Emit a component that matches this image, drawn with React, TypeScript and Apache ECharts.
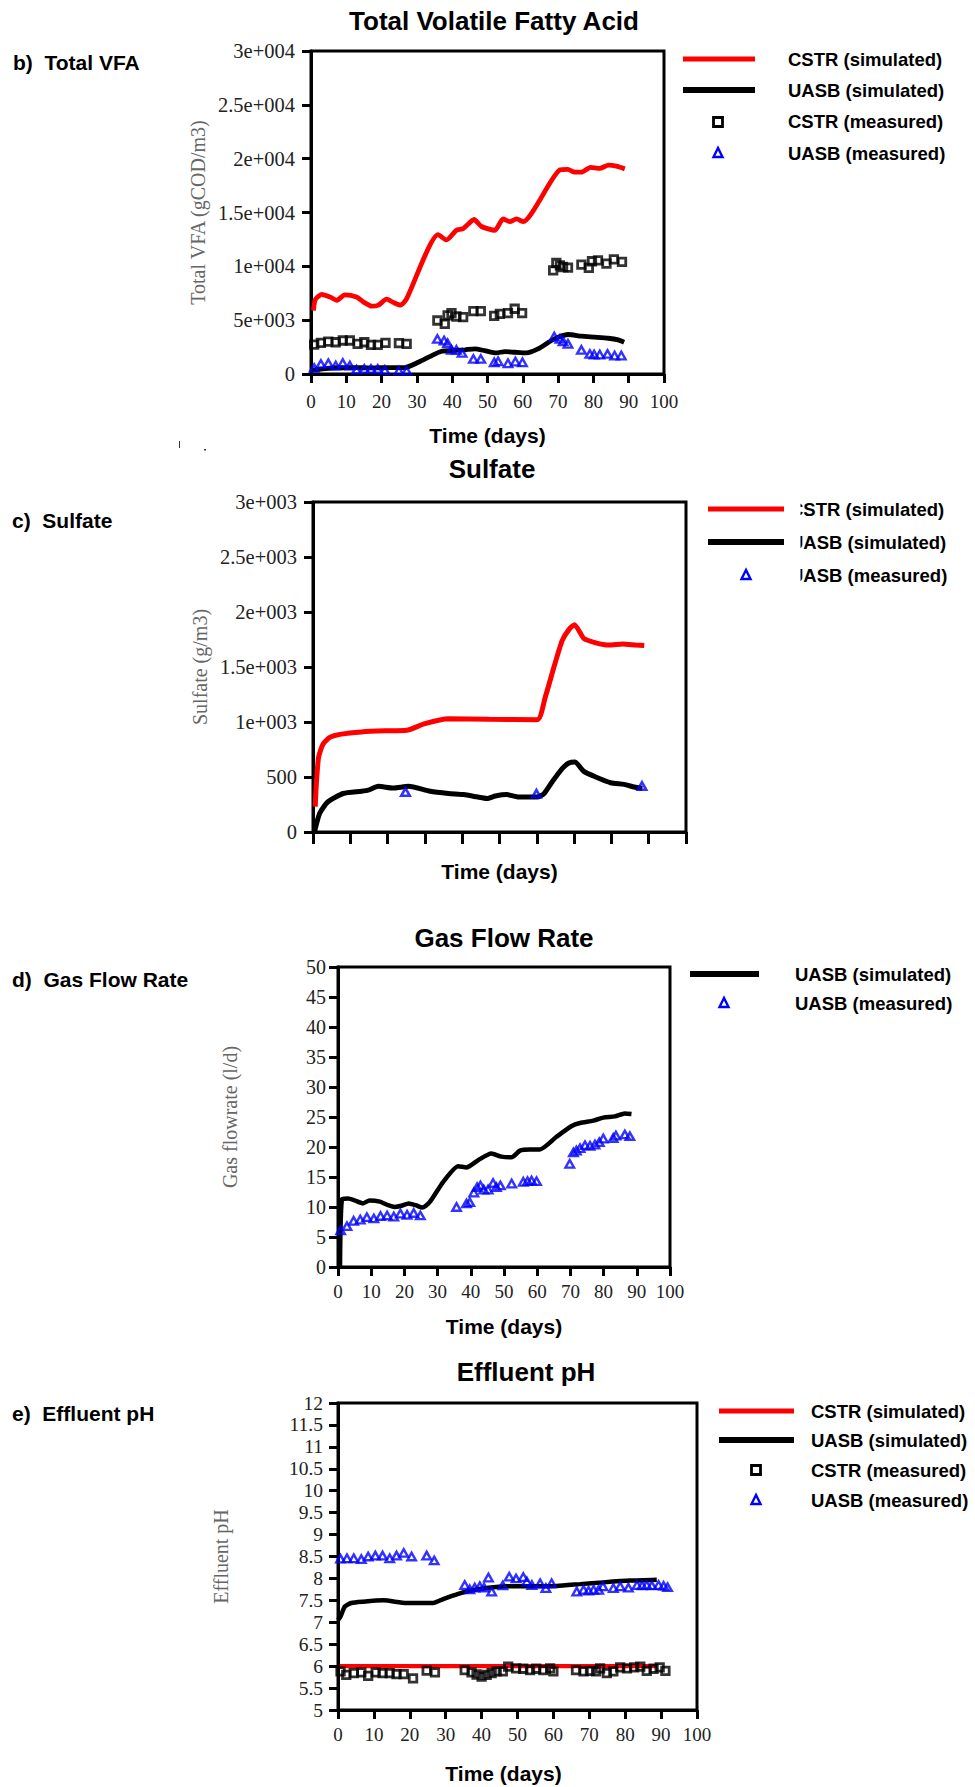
import React, { useEffect, useRef } from 'react';
import * as echarts from 'echarts';

// ---------- tick labels ----------
const timeTicks = ['0', '10', '20', '30', '40', '50', '60', '70', '80', '90', '100'];
const vfaYTicks = ['0', '5e+003', '1e+004', '1.5e+004', '2e+004', '2.5e+004', '3e+004'];
const sulfYTicks = ['0', '500', '1e+003', '1.5e+003', '2e+003', '2.5e+003', '3e+003'];
const gasYTicks = ['0', '5', '10', '15', '20', '25', '30', '35', '40', '45', '50'];
const phYTicks = ['5', '5.5', '6', '6.5', '7', '7.5', '8', '8.5', '9', '9.5', '10', '10.5', '11', '11.5', '12'];

// ---------- b) Total VFA ----------
const cstrVfaSim = [[0.7, 5900], [1.2, 6900], [3, 7400], [5.4, 7150], [7.3, 6850], [9.6, 7350], [12.9, 7150], [14.8, 6700], [17.2, 6300], [19.1, 6400], [21.4, 6950], [23.3, 6650], [25.4, 6400], [27.1, 7000], [36, 12950], [38.4, 12450], [41.2, 13350], [43.1, 13500], [46.2, 14350], [48.3, 13700], [52.1, 13350], [54.4, 14400], [56.3, 14150], [58.2, 14400], [60.1, 14150], [70.5, 18950], [72.8, 19000], [74.7, 18750], [76.6, 18750], [79.2, 19200], [81.8, 19100], [84.3, 19400], [86.5, 19300], [88.9, 19050]];
const uasbVfaSim = [[0.3, 350], [4, 500], [7.7, 580], [12.5, 600], [17, 560], [22, 600], [26.6, 600], [30.4, 1090], [34.2, 1710], [37, 2110], [39.8, 2170], [43.6, 2250], [46.4, 2330], [49.2, 2170], [52.5, 1960], [54.9, 2080], [57.7, 2020], [61, 1960], [64.3, 2330], [68.1, 3110], [70, 3420], [72.8, 3670], [76.6, 3510], [80.4, 3420], [84.2, 3320], [87, 3170], [88.7, 2950]];
const cstrVfaMeas = [[0.9, 2730], [2.8, 2890], [4.9, 3010], [7, 2950], [9, 3110], [11, 3110], [13.2, 2800], [15.1, 2950], [17, 2700], [18.9, 2700], [21.1, 2890], [24.9, 2860], [27.1, 2800], [35.8, 4970], [37.9, 4660], [38.7, 5440], [39.8, 5650], [41.2, 5340], [43.1, 5280], [46, 5840], [48.1, 5840], [51.9, 5400], [53.5, 5590], [55.8, 5650], [57.7, 6060], [59.8, 5650], [68.6, 9630], [69.5, 10310], [70.5, 10090], [71.4, 9940], [72.8, 9880], [76.6, 10160], [78.7, 9850], [79.6, 10470], [81.3, 10560], [83.7, 10250], [85.8, 10650], [88.1, 10410]];
const uasbVfaMeas = [[0.9, 560], [2.8, 930], [4.9, 990], [7, 780], [9, 1020], [11, 780], [12.9, 400], [15.1, 470], [17, 470], [18.9, 470], [20.9, 370], [24.9, 310], [27.1, 310], [35.8, 3260], [37.7, 3110], [38.7, 2860], [39.8, 2240], [41.2, 2240], [42.8, 1960], [46, 1400], [48.1, 1400], [51.9, 1090], [53, 1180], [55.8, 990], [57.9, 1150], [59.9, 1090], [68.9, 3480], [70.5, 3260], [71.4, 3040], [72.8, 2800], [76.6, 2240], [79, 1860], [80.2, 1800], [81.8, 1800], [84, 1860], [86, 1710], [87.9, 1710]];

// ---------- c) Sulfate ----------
const cstrSulfSim = [[0.6, 230], [0.9, 440], [1.5, 680], [2.7, 800], [4.5, 860], [7.6, 890], [13, 910], [19.3, 920], [25.1, 925], [30, 985], [36.3, 1030], [47.1, 1025], [60.1, 1020], [62.3, 1230], [64.6, 1500], [66.8, 1740], [68.6, 1840], [70.1, 1885], [72.6, 1760], [75.8, 1720], [79.4, 1700], [83, 1710], [86.5, 1700], [88.8, 1695]];
const uasbSulfSim = [[0.4, 0], [1.8, 170], [4, 275], [8.1, 350], [13, 370], [14.8, 380], [17.5, 415], [21.5, 400], [25.6, 415], [31.4, 370], [36.3, 350], [40.4, 340], [43.9, 320], [46.6, 305], [48.9, 327], [52, 340], [55.2, 318], [60.1, 318], [61.9, 348], [64.1, 455], [66.8, 576], [68.6, 627], [70.2, 636], [72.6, 551], [75.8, 500], [79.8, 448], [83.4, 433], [86.1, 409], [88.3, 394]];
const uasbSulfMeas = [[24.8, 364], [59.9, 348], [88.2, 418]];

// ---------- d) Gas Flow Rate ----------
const uasbGasSim = [[0.6, 0], [1.2, 11.3], [3, 11.4], [5, 11.1], [7.5, 10.6], [9.5, 11.1], [12.6, 10.9], [15.1, 10.3], [17.1, 10], [19.1, 10.2], [21.3, 10.6], [23.4, 10.3], [25.4, 9.9], [27.6, 10.8], [31.7, 14.2], [36.2, 16.8], [38.7, 16.6], [42.2, 17.8], [46.2, 18.9], [49.2, 18.4], [52.3, 18.3], [54.8, 19.4], [57.8, 19.6], [60.8, 19.6], [65.8, 21.7], [70.4, 23.5], [72.9, 24], [76.9, 24.4], [79.9, 24.9], [83.4, 25.1], [86.4, 25.6], [88.4, 25.5]];
const uasbGasMeas = [[0.8, 6.1], [2.7, 6.8], [4.7, 7.7], [6.7, 7.9], [8.7, 8.3], [10.8, 8.1], [12.8, 8.5], [14.8, 8.6], [16.8, 8.4], [18.8, 8.9], [20.8, 8.7], [22.8, 9.0], [24.8, 8.6], [35.7, 10], [38.7, 10.6], [39.7, 10.8], [40.9, 12.4], [41.9, 13.3], [42.9, 13.6], [43.9, 12.9], [45.2, 12.9], [46.7, 14], [47.7, 13.3], [48.9, 13.6], [52.3, 13.9], [55.8, 14.2], [57.1, 14.3], [58.3, 14.4], [59.8, 14.3], [69.8, 17.2], [70.9, 19.1], [71.8, 19.4], [72.9, 19.8], [74.4, 20.3], [75.9, 20.2], [77.4, 20.4], [78.7, 20.8], [79.9, 21.4], [82.9, 21.5], [83.7, 21.9], [86.4, 22.1], [87.9, 21.8]];

// ---------- e) Effluent pH ----------
const cstrPhSim = [[0.5, 6.0], [30, 6.0], [60, 6.0], [89, 6.0]];
const uasbPhSim = [[0, 7.05], [0.7, 7.13], [1.9, 7.36], [3.7, 7.44], [7, 7.47], [12.6, 7.5], [19.1, 7.44], [26.5, 7.44], [29.3, 7.53], [33.5, 7.65], [36.7, 7.72], [41.4, 7.78], [46.9, 7.82], [53.5, 7.82], [60.9, 7.83], [67.4, 7.87], [73.9, 7.91], [81.4, 7.95], [88.8, 7.97]];
const cstrPhMeas = [[0.7, 5.88], [2.3, 5.8], [4.4, 5.84], [6.5, 5.86], [8.4, 5.78], [10.5, 5.86], [12.4, 5.84], [14.4, 5.84], [16.3, 5.82], [18.3, 5.82], [20.9, 5.72], [24.7, 5.9], [27, 5.86], [35.3, 5.91], [37.2, 5.86], [38.6, 5.81], [40, 5.76], [41.4, 5.8], [42.8, 5.84], [44.2, 5.88], [45.9, 5.88], [47.4, 5.99], [49.6, 5.95], [51.6, 5.94], [53.5, 5.91], [55.2, 5.94], [57.2, 5.91], [59.1, 5.95], [60, 5.88], [66.3, 5.91], [68.4, 5.88], [70.2, 5.89], [71.9, 5.88], [73, 5.95], [74.9, 5.84], [76.7, 5.88], [78.6, 5.97], [80.5, 5.95], [82.5, 5.97], [84.2, 5.99], [86, 5.89], [87.9, 5.94], [89.6, 5.97], [91.2, 5.89]];
const uasbPhMeas = [[0.7, 8.45], [2.5, 8.46], [4.4, 8.46], [6.5, 8.44], [8.4, 8.5], [10.4, 8.52], [12.4, 8.52], [14.4, 8.46], [16.3, 8.52], [18.3, 8.58], [20.5, 8.5], [24.7, 8.52], [26.8, 8.41], [35.3, 7.85], [36.7, 7.75], [38.1, 7.79], [39.5, 7.82], [40.7, 7.79], [41.9, 8.02], [42.8, 7.7], [45.9, 7.84], [47.7, 8.04], [49.6, 8.0], [51.6, 8.03], [52.6, 7.93], [54, 7.85], [56.3, 7.89], [57.9, 7.78], [59.5, 7.89], [66.5, 7.7], [68.4, 7.74], [69.8, 7.72], [71.2, 7.74], [72.6, 7.74], [73.8, 7.82], [76.7, 7.78], [78.6, 7.82], [80.9, 7.79], [83.3, 7.85], [84.7, 7.84], [86, 7.85], [87.4, 7.84], [89.3, 7.85], [90.7, 7.83], [91.8, 7.8]];

const serif = '"Liberation Serif", "Times New Roman", serif';
const sans = '"Liberation Sans", Arial, sans-serif';
const RED = '#ff0000';
const BLUE = '#0000ff';
const BLACK = '#000000';

function xAxisCfg(gridIndex: number, showLabels: boolean, tickLen: number, margin: number, nameGap: number, namePadRight = 0) {
  return {
    type: 'value', gridIndex, min: 0, max: 100, interval: 10,
    axisLine: { show: true, lineStyle: { color: BLACK, width: 3 } },
    axisTick: { show: true, length: tickLen, lineStyle: { color: BLACK, width: 3 } },
    axisLabel: {
      show: showLabels, margin, fontFamily: serif, fontSize: 19, color: '#222',
      formatter: (v: number) => timeTicks[Math.round(v / 10)],
    },
    splitLine: { show: false },
    name: 'Time (days)', nameLocation: 'middle', nameGap,
    nameTextStyle: { fontFamily: sans, fontWeight: 'bold', fontSize: 21, color: BLACK, padding: [0, namePadRight, 0, 0] },
  };
}

function yAxisCfg(gridIndex: number, min: number, max: number, interval: number, ticks: string[], name: string, nameGap: number, margin: number, fontSize: number) {
  return {
    type: 'value', gridIndex, min, max, interval,
    axisLine: { show: true, lineStyle: { color: BLACK, width: 3 } },
    axisTick: { show: true, length: 9, lineStyle: { color: BLACK, width: 3 } },
    axisLabel: {
      margin, fontFamily: serif, fontSize, color: '#222',
      formatter: (v: number) => ticks[Math.round((v - min) / interval)],
    },
    splitLine: { show: false },
    name, nameLocation: 'middle', nameRotate: 90, nameGap,
    nameTextStyle: { fontFamily: serif, fontSize: 20, color: '#666' },
  };
}

function lineSeries(name: string, data: number[][], color: string, width: number, idx: number) {
  return {
    type: 'line', name, data, xAxisIndex: idx, yAxisIndex: idx,
    symbol: 'none', showSymbol: false, smooth: 0.2,
    lineStyle: { color, width }, z: 2,
  };
}

function scatterSeries(name: string, data: number[][], symbol: string, color: string, idx: number, size: number | number[], bw: number) {
  return {
    type: 'scatter', name, data, xAxisIndex: idx, yAxisIndex: idx,
    symbol, symbolSize: size,
    itemStyle: { color: 'rgba(0,0,0,0)', borderColor: color, borderWidth: bw }, z: 3,
  };
}

function txt(text: string, x: number, y: number, size: number, align = 'left', family = sans, weight = 'bold', fill = BLACK, z = 10) {
  return {
    type: 'text', x, y, z,
    style: { text, font: `${weight} ${size}px ${family}`, fill, align, verticalAlign: 'middle', textAlign: align, textVerticalAlign: 'middle' },
  };
}

function legLine(x1: number, x2: number, y: number, color: string, w: number) {
  return { type: 'line', shape: { x1, y1: y, x2, y2: y }, style: { stroke: color, lineWidth: w } };
}

function legSquare(cx: number, cy: number) {
  return { type: 'rect', shape: { x: cx - 4.5, y: cy - 4.5, width: 9, height: 9 }, style: { fill: 'none', stroke: BLACK, lineWidth: 2.8 } };
}

function legTri(cx: number, cy: number) {
  return { type: 'polygon', shape: { points: [[cx, cy - 5], [cx - 4.5, cy + 4], [cx + 4.5, cy + 4]] }, style: { fill: 'none', stroke: BLUE, lineWidth: 2.4 } };
}

const LEG = 18.5;

const graphics: any[] = [
  // titles
  txt('Total Volatile Fatty Acid', 494, 21, 26, 'center'),
  txt('Sulfate', 492, 469, 26, 'center'),
  txt('Gas Flow Rate', 504, 938, 26, 'center'),
  txt('Effluent pH', 526, 1372, 26, 'center'),
  // panel labels
  txt('b)\u00a0\u00a0Total VFA', 13, 62, 21),
  txt('c)\u00a0\u00a0Sulfate', 12, 520, 21),
  txt('d)\u00a0\u00a0Gas Flow Rate', 12, 979, 21),
  txt('e)\u00a0\u00a0Effluent pH', 12, 1413, 21),
  // legend b
  legLine(683, 755, 59, RED, 5),
  legLine(683, 755, 90, BLACK, 6),
  legSquare(718, 122),
  legTri(718, 153),
  txt('CSTR (simulated)', 788, 59, LEG),
  txt('UASB (simulated)', 788, 90, LEG),
  txt('CSTR (measured)', 788, 121, LEG),
  txt('UASB (measured)', 788, 153, LEG),
  // legend c (left part of text hidden)
  legLine(708, 784, 509, RED, 5),
  legLine(708, 784, 542, BLACK, 6),
  legTri(746, 575),
  txt('CSTR (simulated)', 790, 509, LEG),
  txt('UASB (simulated)', 790, 542, LEG),
  txt('UASB (measured)', 790, 575, LEG),
  { type: 'rect', z: 20, shape: { x: 786, y: 492, width: 14.5, height: 100 }, style: { fill: '#fff' } },
  // legend d
  legLine(690, 759, 974, BLACK, 6),
  legTri(724, 1003),
  txt('UASB (simulated)', 795, 974, LEG),
  txt('UASB (measured)', 795, 1003, LEG),
  // legend e
  legLine(719, 794, 1411, RED, 5),
  legLine(719, 794, 1440, BLACK, 6),
  legSquare(756, 1470),
  legTri(756, 1500),
  txt('CSTR (simulated)', 811, 1411, LEG),
  txt('UASB (simulated)', 811, 1440, LEG),
  txt('CSTR (measured)', 811, 1470, LEG),
  txt('UASB (measured)', 811, 1500, LEG),
  // small stray marks in the source image
  { type: 'rect', shape: { x: 179, y: 441, width: 1, height: 7 }, style: { fill: '#333' } },
  { type: 'rect', shape: { x: 204, y: 449, width: 2, height: 1.5 }, style: { fill: '#333' } },
];

const gridCommon = { show: true, borderColor: BLACK, borderWidth: 3, backgroundColor: 'rgba(0,0,0,0)', containLabel: false };

const option: any = {
  animation: false,
  backgroundColor: '#ffffff',
  grid: [
    { ...gridCommon, left: 311, top: 51, width: 353, height: 323 },
    { ...gridCommon, left: 313, top: 502, width: 373, height: 330 },
    { ...gridCommon, left: 338, top: 967, width: 332, height: 300 },
    { ...gridCommon, left: 338, top: 1403, width: 359, height: 307 },
  ],
  xAxis: [
    xAxisCfg(0, true, 9, 18, 51),
    xAxisCfg(1, false, 12, 18, 29),
    xAxisCfg(2, true, 9, 15, 49),
    xAxisCfg(3, true, 9, 15, 53, 28),
  ],
  yAxis: [
    yAxisCfg(0, 0, 30000, 5000, vfaYTicks, 'Total VFA (gCOD/m3)', 103, 16, 20.5),
    yAxisCfg(1, 0, 3000, 500, sulfYTicks, 'Sulfate (g/m3)', 103, 16, 20.5),
    yAxisCfg(2, 0, 50, 5, gasYTicks, 'Gas flowrate (l/d)', 98, 12, 20),
    yAxisCfg(3, 5, 12, 0.5, phYTicks, 'Effluent pH', 107, 15, 19.5),
  ],
  series: [
    lineSeries('CSTR (simulated)', cstrVfaSim, RED, 4.8, 0),
    lineSeries('UASB (simulated)', uasbVfaSim, BLACK, 4.8, 0),
    scatterSeries('CSTR (measured)', cstrVfaMeas, 'rect', BLACK, 0, 7.5, 2.8),
    scatterSeries('UASB (measured)', uasbVfaMeas, 'triangle', BLUE, 0, [8.5, 7.5], 2.4),

    lineSeries('CSTR (simulated)', cstrSulfSim, RED, 5, 1),
    lineSeries('UASB (simulated)', uasbSulfSim, BLACK, 5, 1),
    scatterSeries('UASB (measured)', uasbSulfMeas, 'triangle', BLUE, 1, [8.5, 7.5], 2.6),

    lineSeries('UASB (simulated)', uasbGasSim, BLACK, 4.5, 2),
    scatterSeries('UASB (measured)', uasbGasMeas, 'triangle', BLUE, 2, [8.5, 7.5], 2.4),

    lineSeries('CSTR (simulated)', cstrPhSim, RED, 4.2, 3),
    lineSeries('UASB (simulated)', uasbPhSim, BLACK, 4.5, 3),
    scatterSeries('CSTR (measured)', cstrPhMeas, 'rect', BLACK, 3, 7.5, 2.8),
    scatterSeries('UASB (measured)', uasbPhMeas, 'triangle', BLUE, 3, [8.5, 7.5], 2.4),
  ],
  graphic: { elements: graphics },
};

export default function App() {
  const ref = useRef<HTMLDivElement>(null);
  useEffect(() => {
    if (!ref.current) return;
    const chart = echarts.init(ref.current, undefined, { renderer: 'svg', width: 975, height: 1787 });
    chart.setOption(option);
    return () => chart.dispose();
  }, []);
  return (
    <div
      ref={ref}
      style={{ position: 'absolute', left: 0, top: 0, width: 975, height: 1787, background: '#fff' }}
    />
  );
}
